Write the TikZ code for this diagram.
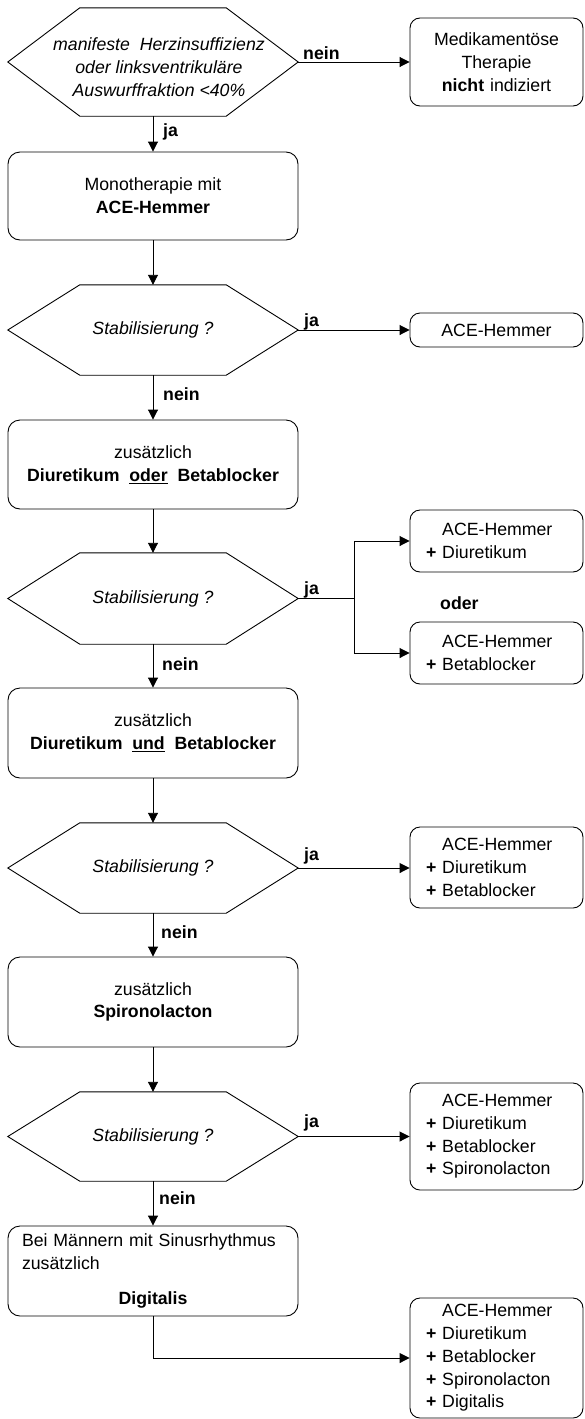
\documentclass[tikz,border=0pt]{standalone}
\usepackage{fontspec}
\setmainfont{Liberation Sans}
\usetikzlibrary{arrows.meta}
\begin{document}
\begin{tikzpicture}[x=1pt,y=-1pt,
  every node/.style={font=\fontsize{17.7}{22.7}\selectfont, inner sep=0pt},
  lbox/.style={draw, rounded corners=12pt, line width=0.9pt, minimum width=290pt, align=center},
  rbox/.style={draw, rounded corners=10pt, line width=0.9pt, minimum width=173pt, text width=141pt, inner xsep=16pt, align=left},
  rboxc/.style={rbox, align=center},
  hexn/.style={minimum width=290pt, align=center, font=\fontsize{17.7}{22.7}\selectfont\itshape},
  lbl/.style={font=\fontsize{17.7}{22.7}\selectfont\bfseries, anchor=base west},
  arr/.style={-{Triangle[length=10pt,width=10pt]}, line width=0.9pt},
  ln/.style={line width=0.9pt}
]
\useasboundingbox (0,0) rectangle (585,1419);

% left column
\node[hexn, minimum height=108pt] (h1) at (153,62) {};
\node[hexn] (t1) at (159,67) {manifeste\ \ Herzinsuffizienz\\oder linksventrikuläre\\Auswurffraktion <40\%};
\node[lbox, minimum height=88pt] (b1) at (153,196) {Monotherapie mit\\\textbf{ACE-Hemmer}};
\node[hexn, minimum height=90pt] (h2) at (153,330) {Stabilisierung ?};
\node[lbox, minimum height=89pt] (b2) at (153,464.5) {zusätzlich\\\textbf{Diuretikum\ \ \underline{oder}\ \ Betablocker}};
\node[hexn, minimum height=91pt] (h3) at (153,598.5) {Stabilisierung ?};
\node[lbox, minimum height=90pt] (b3) at (153,733) {zusätzlich\\\textbf{Diuretikum\ \ \underline{und}\ \ Betablocker}};
\node[hexn, minimum height=90pt] (h4) at (153,868) {Stabilisierung ?};
\node[lbox, minimum height=90pt] (b4) at (153,1002) {zusätzlich\\\textbf{Spironolacton}};
\node[hexn, minimum height=89pt] (h5) at (153,1136.5) {Stabilisierung ?};
\node[lbox, minimum height=90pt, text width=262pt, inner xsep=14pt, align=left] (b5) at (153,1271) {Bei Männern mit Sinusrhythmus\\zusätzlich\\[13pt]\makebox[262pt]{\textbf{Digitalis}}};

% right column
\node[rboxc, minimum height=88pt] (r1) at (496.5,62) {Medikamentöse\\Therapie\\\textbf{nicht} indiziert};
\node[rboxc, minimum height=34pt] (r2) at (496.5,330) {ACE-Hemmer};
\node[rbox, minimum height=62pt] (r3a) at (496.5,541) {\phantom{\textbf{+} }ACE-Hemmer\\\textbf{+} Diuretikum};
\node[rbox, minimum height=62pt] (r3b) at (496.5,653) {\phantom{\textbf{+} }ACE-Hemmer\\\textbf{+} Betablocker};
\node[rbox, minimum height=81pt] (r4) at (496.5,867.5) {\phantom{\textbf{+} }ACE-Hemmer\\\textbf{+} Diuretikum\\\textbf{+} Betablocker};
\node[rbox, minimum height=107pt] (r5) at (496.5,1136.5) {\phantom{\textbf{+} }ACE-Hemmer\\\textbf{+} Diuretikum\\\textbf{+} Betablocker\\\textbf{+} Spironolacton};
\node[rbox, minimum height=120pt] (r6) at (496.5,1358) {\phantom{\textbf{+} }ACE-Hemmer\\\textbf{+} Diuretikum\\\textbf{+} Betablocker\\\textbf{+} Spironolacton\\\textbf{+} Digitalis};

% hexagon outlines
\foreach \n in {h1,h2,h3,h4,h5}{
  \draw[ln, line join=miter] (\n.west) -- ([xshift=72pt]\n.north west) -- ([xshift=-72pt]\n.north east) -- (\n.east) -- ([xshift=-72pt]\n.south east) -- ([xshift=72pt]\n.south west) -- cycle;
}

% connectors
\draw[arr] (h1.east) -- (h1.east -| r1.west);
\draw[arr] (h1.south) -- (b1.north);
\draw[arr] (b1.south) -- (h2.north);
\draw[arr] (h2.east) -- (h2.east -| r2.west);
\draw[arr] (h2.south) -- (b2.north);
\draw[arr] (b2.south) -- (h3.north);
\coordinate (br) at (354,598.5);
\draw[ln] (h3.east) -- (br);
\draw[arr] (br) |- (r3a.west);
\draw[arr] (br) |- (r3b.west);
\draw[arr] (h3.south) -- (b3.north);
\draw[arr] (b3.south) -- (h4.north);
\draw[arr] (h4.east) -- (h4.east -| r4.west);
\draw[arr] (h4.south) -- (b4.north);
\draw[arr] (b4.south) -- (h5.north);
\draw[arr] (h5.east) -- (h5.east -| r5.west);
\draw[arr] (h5.south) -- (b5.north);
\draw[arr] (b5.south) |- (r6.west);

% labels
\node[lbl] (l1) at (303,59) {nein};
\node[lbl] (l2) at (163,136) {ja};
\node[lbl] (l3) at (304,326) {ja};
\node[lbl] (l4) at (163,400) {nein};
\node[lbl] (l5) at (304,594) {ja};
\node[lbl] (l6) at (162,670) {nein};
\node[lbl] (l7) at (440,609) {oder};
\node[lbl] (l8) at (304,860) {ja};
\node[lbl] (l9) at (161,938) {nein};
\node[lbl] (l10) at (304,1127) {ja};
\node[lbl] (l11) at (159,1204) {nein};
\end{tikzpicture}
\end{document}
